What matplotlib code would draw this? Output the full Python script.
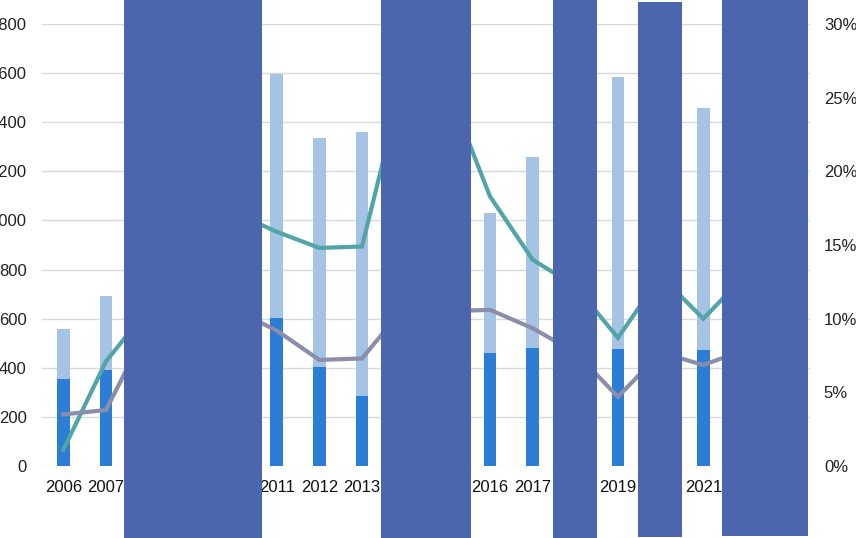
import numpy as np
import matplotlib
matplotlib.use("Agg")
import matplotlib.pyplot as plt
from matplotlib.patches import Rectangle
from matplotlib.ticker import FuncFormatter

plt.rcParams['font.family'] = ['Liberation Sans', 'DejaVu Sans']

# --- data (hidden years are rough guesses) ---
years = [str(y) for y in range(2006, 2024)]
dark_vals = [356, 391, 480, 550, 580, 601, 402, 287, 420, 440,
             459, 479, 470, 478, 490, 471, 480, 470]
total_vals = [559, 692, 1100, 1500, 1700, 1596, 1337, 1360, 1200, 1100,
              1029, 1257, 1400, 1586, 1650, 1459, 1500, 1300]
teal_pct = [1.1, 7.1, 10.7, 14.0, 17.2, 15.9, 14.8, 14.9, 26.6, 25.7,
            18.3, 14.0, 12.2, 8.7, 12.9, 10.0, 13.0, 13.0]
grey_pct = [3.5, 3.8, 9.5, 10.5, 10.6, 9.2, 7.2, 7.3, 10.8, 10.5,
            10.6, 9.35, 7.7, 4.7, 7.7, 6.86, 7.9, 8.0]
left_ticks = list(range(0, 1801, 200))
right_ticks = [0, 5, 10, 15, 20, 25, 30]

# redaction boxes in pixel coords (x0, y0, x1, y1), y from top
boxes = [(124, 0, 262, 538), (381, 0, 471, 538), (553, 0, 597, 538),
         (638, 2, 682, 537), (722, 0, 808, 536)]

W, H = 856, 538
fig = plt.figure(figsize=(W / 100, H / 100), dpi=100)
ax = fig.add_axes([42 / W, 1 - 466 / H, 768 / W, 442 / H])

x = np.arange(len(years))
light_vals = np.array(total_vals) - np.array(dark_vals)
ax.bar(x, dark_vals, width=0.3, color='#2b7dd6', zorder=2)
ax.bar(x, light_vals, width=0.3, bottom=dark_vals, color='#a5c3e5', zorder=2)

ax.set_xlim(-0.5, len(years) - 0.5)
ax.set_ylim(0, 1800)
ax.set_yticks(left_ticks)
ax.set_yticklabels([str(v) for v in left_ticks])
ax.set_xticks(x)
ax.set_xticklabels(years)
ax.grid(axis='y', color='#d9d9d9', linewidth=1, zorder=0)
ax.set_axisbelow(True)
ax.tick_params(axis='y', length=0, pad=11, labelsize=12, labelcolor='#222222')
ax.tick_params(axis='x', length=0, pad=10, labelsize=12, labelcolor='#111111')
for s in ax.spines.values():
    s.set_visible(False)

ax2 = ax.twinx()
ax2.plot(x, teal_pct, color='#53a4a8', linewidth=3, solid_joinstyle='miter')
ax2.plot(x, grey_pct, color='#8a8ea9', linewidth=3, solid_joinstyle='miter')
ax2.set_ylim(0, 30)
ax2.set_yticks(right_ticks)
ax2.yaxis.set_major_formatter(FuncFormatter(lambda v, p: f'{v:.0f}%'))
ax2.tick_params(axis='y', length=0, pad=10, labelsize=12, labelcolor='#222222')
for s in ax2.spines.values():
    s.set_visible(False)

for x0, y0, x1, y1 in boxes:
    fig.add_artist(Rectangle((x0 / W, 1 - y1 / H), (x1 - x0) / W, (y1 - y0) / H,
                             transform=fig.transFigure, facecolor='#4b66ae',
                             edgecolor='none', zorder=20))

fig.savefig('out.png', dpi=100)
